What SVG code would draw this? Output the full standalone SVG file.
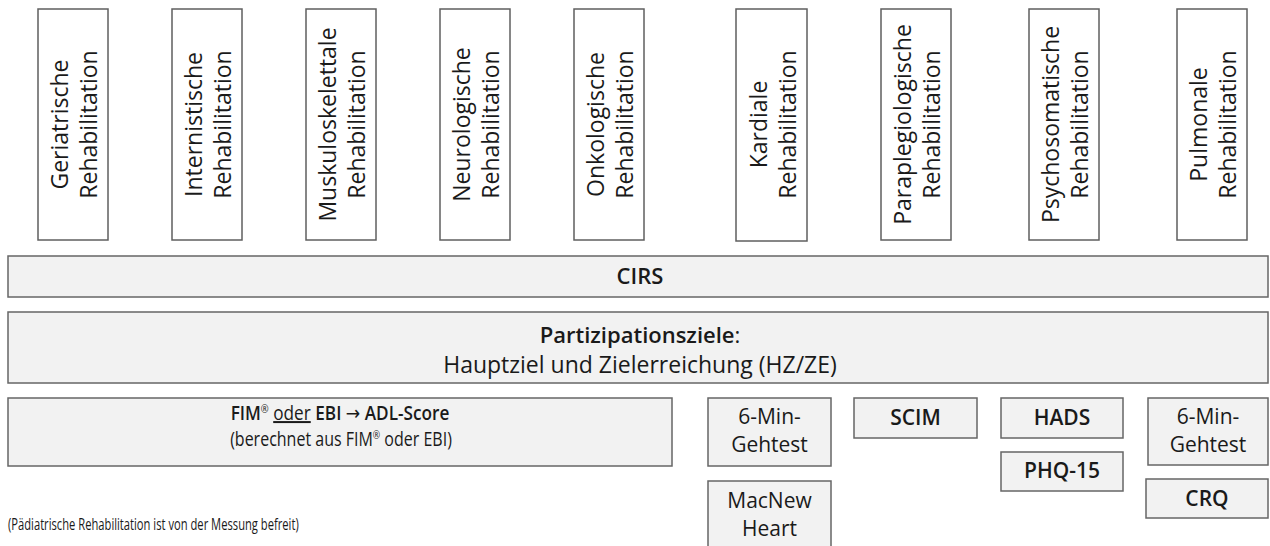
<svg xmlns="http://www.w3.org/2000/svg" width="1270" height="546" viewBox="0 0 1270 546">
<style>
text{font-family:"Open Sans","Noto Sans","DejaVu Sans",sans-serif;fill:#1a1a1a;}
.top rect{fill:#fff;stroke:#5f5f5f;stroke-width:1.5;}
.bar rect,.m rect{fill:#f2f2f2;stroke:#666;stroke-width:1.5;}
.vt{font-size:23px;text-anchor:middle;}
.c{text-anchor:middle;font-size:21px;}
.b{font-weight:600;}
.sup{font-size:11px;}
</style>
<g id="geriatrische" class="top"><rect x="38" y="9" width="70" height="231"/><text class="vt" transform="translate(73,124.5) rotate(-90)"><tspan x="0" y="-5">Geriatrische</tspan><tspan x="0" y="24">Rehabilitation</tspan></text></g>
<g id="internistische" class="top"><rect x="172" y="9" width="70" height="231"/><text class="vt" transform="translate(207,124.5) rotate(-90)"><tspan x="0" y="-5">Internistische</tspan><tspan x="0" y="24">Rehabilitation</tspan></text></g>
<g id="muskuloskelettale" class="top"><rect x="306" y="9" width="70" height="231"/><text class="vt" transform="translate(341,124.5) rotate(-90)"><tspan x="0" y="-5">Muskuloskelettale</tspan><tspan x="0" y="24">Rehabilitation</tspan></text></g>
<g id="neurologische" class="top"><rect x="440" y="9" width="70" height="231"/><text class="vt" transform="translate(475,124.5) rotate(-90)"><tspan x="0" y="-5">Neurologische</tspan><tspan x="0" y="24">Rehabilitation</tspan></text></g>
<g id="onkologische" class="top"><rect x="574" y="9" width="70" height="231"/><text class="vt" transform="translate(609,124.5) rotate(-90)"><tspan x="0" y="-5">Onkologische</tspan><tspan x="0" y="24">Rehabilitation</tspan></text></g>
<g id="kardiale" class="top"><rect x="736" y="9" width="71" height="232"/><text class="vt" transform="translate(771.5,124.5) rotate(-90)"><tspan x="0" y="-5">Kardiale</tspan><tspan x="0" y="24">Rehabilitation</tspan></text></g>
<g id="paraplegiologische" class="top"><rect x="881" y="9" width="70" height="231"/><text class="vt" transform="translate(916,124.5) rotate(-90)"><tspan x="0" y="-5">Paraplegiologische</tspan><tspan x="0" y="24">Rehabilitation</tspan></text></g>
<g id="psychosomatische" class="top"><rect x="1029" y="9" width="70" height="231"/><text class="vt" transform="translate(1064,124.5) rotate(-90)"><tspan x="0" y="-5">Psychosomatische</tspan><tspan x="0" y="24">Rehabilitation</tspan></text></g>
<g id="pulmonale" class="top"><rect x="1177" y="9" width="70" height="231"/><text class="vt" transform="translate(1212,124.5) rotate(-90)"><tspan x="0" y="-5">Pulmonale</tspan><tspan x="0" y="24">Rehabilitation</tspan></text></g>

<g id="cirs" class="bar"><rect x="8" y="256" width="1260" height="41"/><text class="c b" x="640" y="284" style="font-size:22px">CIRS</text></g>
<g id="partizipation" class="bar"><rect x="8" y="312" width="1260" height="71"/><text class="c" x="640" y="343" style="font-size:22px"><tspan class="b">Partizipationsziele</tspan>:</text><text class="c" x="640" y="373" style="font-size:23px">Hauptziel und Zielerreichung (HZ/ZE)</text></g>

<g id="fim" class="m"><rect x="8" y="398" width="664" height="68"/><text class="c" transform="translate(340,420) scale(0.86,1)" style="font-size:20px"><tspan class="b">FIM</tspan><tspan class="sup" dy="-7">®</tspan><tspan dy="7"> </tspan><tspan text-decoration="underline">oder</tspan> <tspan class="b">EBI</tspan> → <tspan class="b">ADL-Score</tspan></text><text class="c" transform="translate(341,446) scale(0.8,1)" style="font-size:20px">(berechnet aus FIM<tspan class="sup" dy="-7">®</tspan><tspan dy="7"> oder EBI)</tspan></text></g>
<g id="gehtest1" class="m"><rect x="708" y="398" width="123" height="68"/><text class="c" x="769.5" y="424">6-Min-</text><text class="c" x="769.5" y="452">Gehtest</text></g>
<g id="macnew" class="m"><rect x="708" y="481" width="123" height="70"/><text class="c" x="769.5" y="508">MacNew</text><text class="c" x="769.5" y="536">Heart</text></g>
<g id="scim" class="m"><rect x="854" y="398" width="123" height="40"/><text class="c b" x="915.5" y="425">SCIM</text></g>
<g id="hads" class="m"><rect x="1001" y="398" width="122" height="40"/><text class="c b" x="1062" y="425">HADS</text></g>
<g id="phq15" class="m"><rect x="1001" y="452" width="122" height="39"/><text class="c b" x="1062" y="478">PHQ-15</text></g>
<g id="gehtest2" class="m"><rect x="1148" y="398" width="120" height="67"/><text class="c" x="1208" y="424">6-Min-</text><text class="c" x="1208" y="452">Gehtest</text></g>
<g id="crq" class="m"><rect x="1146" y="479" width="122" height="39"/><text class="c b" x="1207" y="506">CRQ</text></g>
<g id="connectors"></g>
<text id="footnote" transform="translate(8,530) scale(0.7,1)" style="font-size:16px">(Pädiatrische Rehabilitation ist von der Messung befreit)</text>
</svg>
